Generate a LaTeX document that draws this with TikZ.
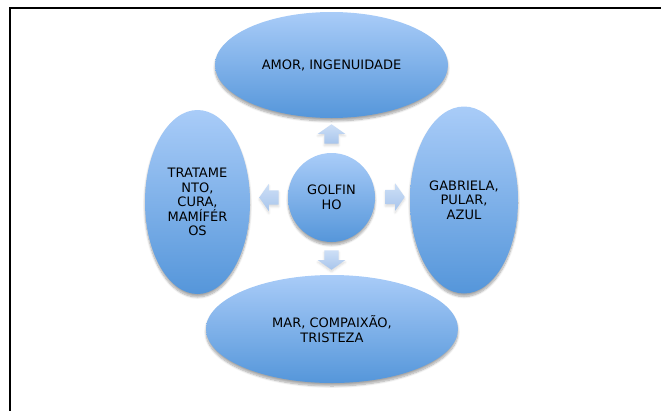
\documentclass[tikz,border=0pt]{standalone}
\usepackage{fontspec}
\setmainfont{DejaVu Sans}
\usetikzlibrary{shapes.geometric,shapes.arrows,shadows.blur}
\definecolor{skytop}{HTML}{A9CCF8}
\definecolor{skybottom}{HTML}{5596DA}
\definecolor{arrowtop}{HTML}{CDDFF6}
\definecolor{arrowbottom}{HTML}{A8C5EC}
\tikzset{
  every node/.style={font=\fontsize{13}{14.5}\selectfont,align=center},
  bubble/.style={ellipse,inner sep=0pt,top color=skytop,bottom color=skybottom,
    blur shadow={shadow xshift=0pt,shadow yshift=-3pt,shadow blur steps=8,shadow opacity=35}},
  pointer/.style={single arrow,inner sep=7pt,single arrow head extend=6.5pt,
    single arrow tip angle=110,single arrow head indent=0pt,minimum height=19pt,
    top color=arrowtop,bottom color=arrowbottom,draw=none,
    blur shadow={shadow xshift=0pt,shadow yshift=-2pt,shadow blur steps=5,shadow opacity=15}}}

\begin{document}
\begin{tikzpicture}[x=1pt,y=-1pt]
\useasboundingbox (0,0) rectangle (661,410);
\draw[line width=2pt] (10,411) -- (10,8) -- (662,8);
% central circle and the four bubbles
\node[bubble,minimum width=87pt,minimum height=89pt] (golfinho) at (331.5,197.5) {GOLFIN\\HO};
\node[bubble,minimum width=233pt,minimum height=106pt] (amor) at (331.5,65) {AMOR, INGENUIDADE};
\node[bubble,minimum width=108pt,minimum height=187pt] (gabriela) at (464,200) {GABRIELA,\\PULAR,\\AZUL};
\node[bubble,minimum width=252pt,minimum height=108pt] (mar) at (332,329) {MAR, COMPAIXÃO,\\TRISTEZA};
\node[bubble,minimum width=105pt,minimum height=184pt] (tratamento) at (197.5,202) {TRATAME\\NTO,\\CURA,\\MAMÍFÉR\\OS};
% block arrows round the centre
\node[pointer,shape border rotate=90] (toamor) at (331.5,136.5) {};
\node[pointer,shape border rotate=0] (togabriela) at (392.5,197) {};
\node[pointer,shape border rotate=270] (tomar) at (331.5,257.5) {};
\node[pointer,shape border rotate=180] (totratamento) at (271.5,197.5) {};
\end{tikzpicture}
\end{document}
